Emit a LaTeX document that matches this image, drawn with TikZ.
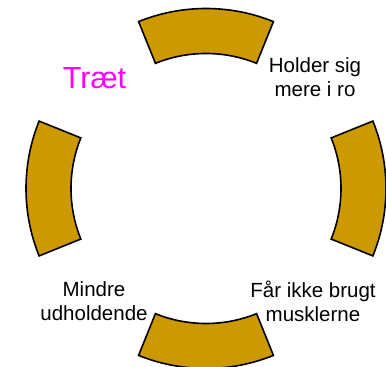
\documentclass[tikz,border=0pt]{standalone}
\usepackage{fontspec}
\setmainfont{Liberation Sans}
\definecolor{segfill}{RGB}{204,153,0}
\definecolor{traet}{RGB}{255,0,255}
\begin{document}
\begin{tikzpicture}[x=1pt,y=1pt,
  seg/.style={draw=black,line width=1.6pt,fill=segfill,line join=miter},
  lbl/.style={font=\fontsize{20.5}{24.5}\selectfont,align=center,inner sep=0pt,anchor=base,text=black}]
\useasboundingbox (0,0) rectangle (386,367);
\coordinate (c) at (206,178.5);
\foreach \a in {90,0,180,270}{
  \draw[seg] ([shift={(c)}]\a-22:180) arc[start angle=\a-22,end angle=\a+22,radius=180]
     -- ([shift={(c)}]\a+22:135) arc[start angle=\a+22,end angle=\a-22,radius=135] -- cycle;
}
\node[lbl,font=\fontsize{30.5}{34}\selectfont,text=traet] (tr) at (94.5,278) {Træt};
\node[lbl] (hs) at (315,270) {Holder sig\\mere i ro};
\node[lbl] (mu) at (94,46) {Mindre\\udholdende};
\node[lbl] (fb) at (313,45) {Får ikke brugt\\musklerne};
\end{tikzpicture}
\end{document}
